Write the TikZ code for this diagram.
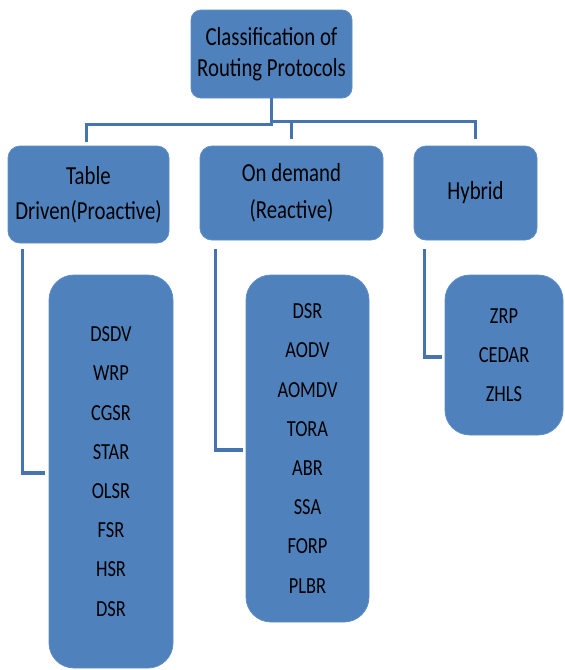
\documentclass[tikz,border=0pt]{standalone}
\usepackage{fontspec}
\setmainfont{Carlito}[FakeStretch=0.8]
\usepackage{xcolor}
\usetikzlibrary{arrows,calc}
\definecolor{boxblue}{HTML}{4F81BD}
\definecolor{lineblue}{HTML}{4674AE}
\tikzset{
  box/.style={fill=boxblue, draw=boxblue!90!white, line width=0.8pt, rounded corners=#1, inner sep=0pt, align=center},
  conn/.style={draw=lineblue, line width=3.6pt}
}
\begin{document}
\begin{tikzpicture}[x=1pt,y=-1pt]
    \useasboundingbox (0,0) rectangle (565,670);
    \node[box=10pt, minimum width=161pt, minimum height=88pt, font=\fontsize{26}{31}\selectfont] (root) at (271.5,54) {Classification of\\Routing Protocols};
    \node[box=12pt, minimum width=161pt, minimum height=97pt, font=\fontsize{26}{35}\selectfont] (tab) at (88.5,194.5) {Table\\Driven(Proactive)};
    \node[box=12pt, minimum width=183pt, minimum height=94pt, font=\fontsize{26}{37}\selectfont] (dem) at (291.5,193) {On demand\\(Reactive)};
    \node[box=12pt, minimum width=123pt, minimum height=94pt, font=\fontsize{26}{35}\selectfont] (hyb) at (475.5,193) {Hybrid};
    \node[box=25pt, minimum width=124pt, minimum height=393pt, font=\fontsize{23}{39.2}\selectfont] (tabl) at (111,471.5) {DSDV\\WRP\\CGSR\\STAR\\OLSR\\FSR\\HSR\\DSR};
    \node[box=25pt, minimum width=123pt, minimum height=347pt, font=\fontsize{23}{39.2}\selectfont] (deml) at (307.5,448.5) {DSR\\AODV\\AOMDV\\TORA\\ABR\\SSA\\FORP\\PLBR};
    \node[box=25pt, minimum width=118pt, minimum height=160pt, font=\fontsize{23}{39.2}\selectfont] (hybl) at (504,355) {ZRP\\CEDAR\\ZHLS};
    \draw[conn] (root.south) -- ++(0,26) -| ([xshift=-2pt,yshift=4pt]tab.north);
    \draw[conn] (root.south) ++(0,23) -| ([yshift=7pt]dem.north);
    \draw[conn] (root.south) ++(0,23) -| ([yshift=7pt]hyb.north);
    \draw[conn] ([xshift=15pt,yshift=-6pt]tab.south west) |- ([xshift=-4pt,yshift=-1.5pt]tabl.west);
    \draw[conn] ([xshift=16pt,yshift=-9pt]dem.south west) |- ([xshift=-3pt,yshift=-1.5pt]deml.west);
    \draw[conn] ([xshift=11pt,yshift=-9pt]hyb.south west) |- ([xshift=-3pt,yshift=-2pt]hybl.west);
    \end{tikzpicture}
\end{document}
